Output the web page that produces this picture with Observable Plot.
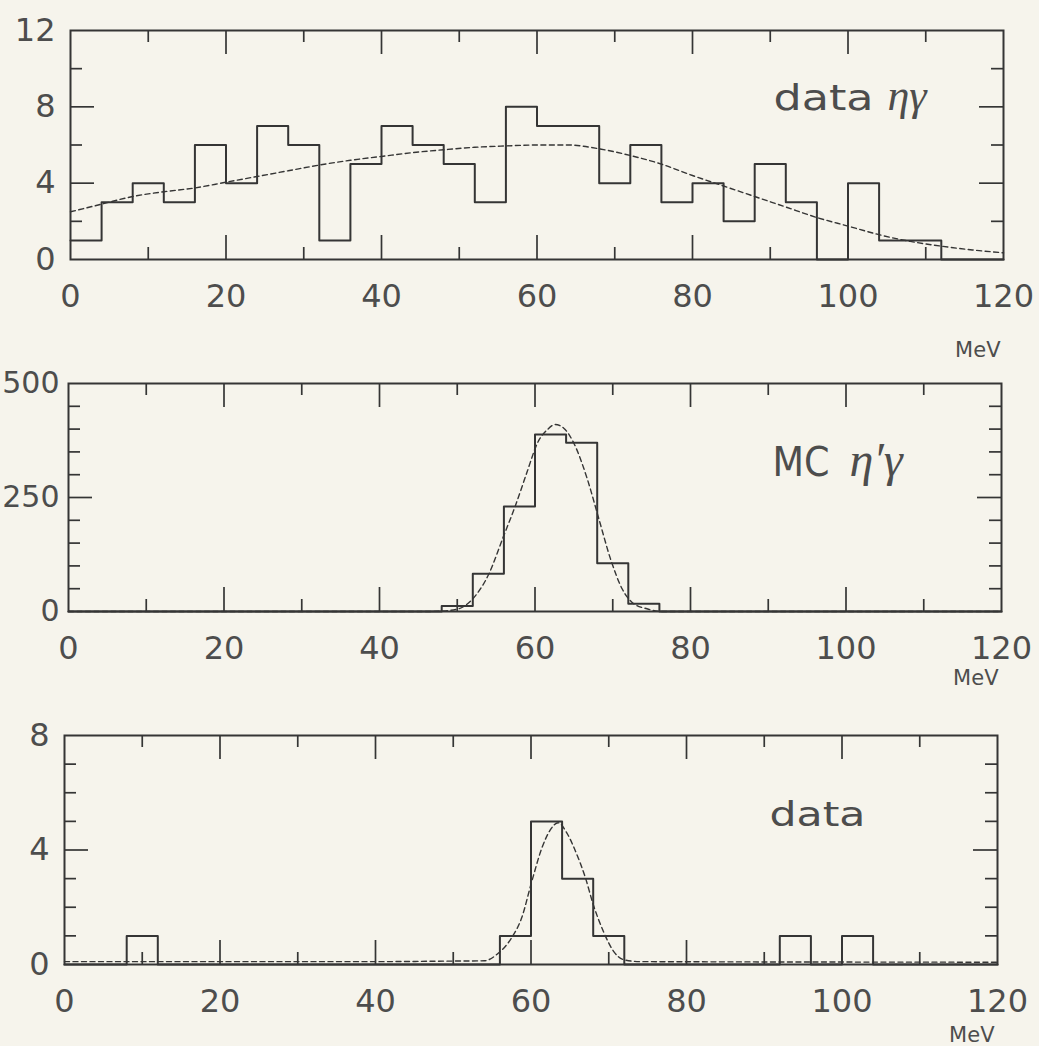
<!DOCTYPE html>
<html>
<head>
<meta charset="utf-8">
<script src="https://cdn.jsdelivr.net/npm/d3@7"></script>
<script src="https://cdn.jsdelivr.net/npm/@observablehq/plot@0.6"></script>
<style>
  html, body { margin: 0; padding: 0; background: #f6f4ec; }
  #fig { position: relative; width: 1039px; height: 1046px; overflow: hidden; }
  #fig svg { position: absolute; left: 0; background: transparent; }
</style>
</head>
<body>
<div id="fig"></div>
<script>
// Photon energy spectra, 4 MeV bins from 0 to 120 MeV
const binWidth = 4;
const xMax = 120;

// data, eta gamma candidates
const etaGammaCounts = [1, 3, 4, 3, 6, 4, 7, 6, 1, 5, 7, 6, 5, 3, 8, 7, 7, 4, 6, 3, 4, 2, 5, 3, 0, 4, 1, 1, 0, 0];
const etaGammaFit = [[0, 2.5], [4, 2.9], [8, 3.3], [12, 3.55], [16, 3.75], [20, 4.05], [24, 4.35], [28, 4.65],
  [32, 4.95], [36, 5.2], [40, 5.4], [44, 5.6], [48, 5.75], [52, 5.88], [56, 5.95], [60, 6.0], [64, 6.0],
  [68, 5.8], [72, 5.45], [76, 5.0], [80, 4.4], [84, 3.85], [88, 3.3], [92, 2.75], [96, 2.2], [100, 1.75],
  [104, 1.3], [108, 0.95], [112, 0.7], [116, 0.5], [120, 0.35]];

// Monte Carlo, eta' gamma
const mcCounts = [0, 0, 0, 0, 0, 0, 0, 0, 0, 0, 0, 0, 12, 83, 230, 388, 370, 106, 17, 0, 0, 0, 0, 0, 0, 0, 0, 0, 0, 0];
const mcFit = [[0, 0], [40, 0], [46, 0], [48, 1], [50, 5], [52, 28], [54, 80], [56, 167], [57.5, 233], [59, 307],
  [60.3, 369], [61.6, 399], [62.6, 410], [63.7, 402], [65, 369], [66.7, 292], [68.2, 204], [69.7, 116],
  [71.2, 50], [72.7, 17], [74.4, 6], [76.4, 0], [120, 0]];

// data, eta' gamma selection
const dataCounts = [0, 0, 1, 0, 0, 0, 0, 0, 0, 0, 0, 0, 0, 0, 1, 5, 3, 1, 0, 0, 0, 0, 0, 1, 0, 1, 0, 0, 0, 0];
const dataFit = [[0, 0.1], [20, 0.1], [40, 0.1], [50, 0.12], [54, 0.13], [55.6, 0.35], [57.5, 0.93], [58.8, 1.63],
  [60.1, 2.9], [61.4, 4.07], [62.5, 4.71], [63.5, 4.95], [64.6, 4.6], [65.9, 3.84], [67, 3.03], [68, 2.1],
  [69.3, 1.16], [70.6, 0.47], [71.9, 0.17], [74, 0.1], [120, 0.08]];

// axes
const xLabels = [0, 20, 40, 60, 80, 100, 120];
const xMajor = [20, 40, 60, 80, 100];
const xMinor = [10, 30, 50, 70, 90, 110];

const ink = "#353535";
const textInk = "#4d4d4d";
const numFont = "DejaVu Sans";

function panel(cfg) {
  const {counts, fit, yMax, yLabels, yMajor, yMinor, labels, top, height, ml, mr, mt, mb} = cfg;
  const width = 1039;
  const frameH = height - mt - mb;
  const frameW = width - ml - mr;
  const steps = counts.map((c, i) => ({e: i * binWidth, c}));
  steps.push({e: xMax, c: counts[counts.length - 1]});

  // inward ticks on all four sides of the frame
  const tickMarks = (len, xs, ys) => [
    Plot.tickX(xs, {x: d => d, insetTop: frameH - len, stroke: ink, strokeWidth: 1.7}),
    Plot.tickX(xs, {x: d => d, insetBottom: frameH - len, stroke: ink, strokeWidth: 1.7}),
    Plot.tickY(ys, {y: d => d, insetRight: frameW - len, stroke: ink, strokeWidth: 1.7}),
    Plot.tickY(ys, {y: d => d, insetLeft: frameW - len, stroke: ink, strokeWidth: 1.7})
  ];

  const svg = Plot.plot({
    width, height,
    marginLeft: ml, marginRight: mr, marginTop: mt, marginBottom: mb,
    style: {background: "transparent", color: textInk, overflow: "hidden"},
    x: {domain: [0, xMax]},
    y: {domain: [0, yMax]},
    marks: [
      ...tickMarks(24, xMajor, yMajor),
      ...tickMarks(12, xMinor, yMinor),
      Plot.line(fit, {x: d => d[0], y: d => d[1], curve: "monotone-x", stroke: ink,
        strokeWidth: 1.4, strokeDasharray: "5,3.5"}),
      Plot.line(steps, {x: "e", y: "c", curve: "step-after", stroke: ink, strokeWidth: 2}),
      Plot.frame({stroke: ink, strokeWidth: 2}),
      Plot.axisX(xLabels, {tickSize: 0, tickPadding: 25, fontSize: 32, fontFamily: numFont,
        fill: textInk, label: null}),
      Plot.axisY(yLabels, {tickSize: 0, tickPadding: cfg.yPad, fontSize: cfg.ySize, fontFamily: numFont,
        fill: textInk, label: null}),
      ...labels.map(l => Plot.text([l.text], {
        text: d => d, frameAnchor: "top-left", dx: l.dx, dy: l.dy, textAnchor: "start",
        lineAnchor: "bottom", fontSize: l.size, fontFamily: l.font, fontStyle: l.style || "normal",
        fill: textInk
      })),
      Plot.text(["MeV"], {text: d => d, frameAnchor: "bottom-right", dx: -3, dy: cfg.unitDy,
        textAnchor: "end", lineAnchor: "bottom", fontSize: 21, fontFamily: numFont, fill: textInk})
    ]
  });
  svg.style.top = top + "px";
  // widen the label lettering
  for (const l of labels) {
    if (!l.length) continue;
    d3.select(svg).selectAll("text").filter(function () { return this.textContent === l.text; })
      .attr("textLength", l.length).attr("lengthAdjust", "spacingAndGlyphs");
  }
  document.getElementById("fig").appendChild(svg);
}

panel({
  counts: etaGammaCounts, fit: etaGammaFit, yMax: 12,
  yLabels: [0, 4, 8, 12], yMajor: [4, 8], yMinor: [2, 6, 10], yPad: 15, ySize: 32,
  labels: [
    {text: "data", dx: 703, dy: 79, size: 36, font: "DejaVu Sans", length: 100},
    {text: "ηγ", dx: 817, dy: 79, size: 44, font: "Liberation Serif", style: "italic"}
  ],
  top: 0, height: 374, ml: 70, mr: 36, mt: 30, mb: 115, unitDy: 97
});

panel({
  counts: mcCounts, fit: mcFit, yMax: 500,
  yLabels: [0, 250, 500], yMajor: [250], yMinor: [50, 100, 150, 200, 300, 350, 400, 450], yPad: 9, ySize: 30,
  labels: [
    {text: "MC", dx: 704, dy: 92, size: 40, font: "DejaVu Sans", length: 57},
    {text: "η′γ", dx: 781, dy: 92, size: 48, font: "Liberation Serif", style: "italic"}
  ],
  top: 360, height: 340, ml: 68, mr: 38, mt: 23, mb: 89, unitDy: 73
});

panel({
  counts: dataCounts, fit: dataFit, yMax: 8,
  yLabels: [0, 4, 8], yMajor: [4], yMinor: [1, 2, 3, 5, 6, 7], yPad: 15, ySize: 32,
  labels: [
    {text: "data", dx: 705, dy: 90, size: 34, font: "DejaVu Sans", length: 96}
  ],
  top: 700, height: 346, ml: 64, mr: 42, mt: 35, mb: 82, unitDy: 77
});
</script>
</body>
</html>
